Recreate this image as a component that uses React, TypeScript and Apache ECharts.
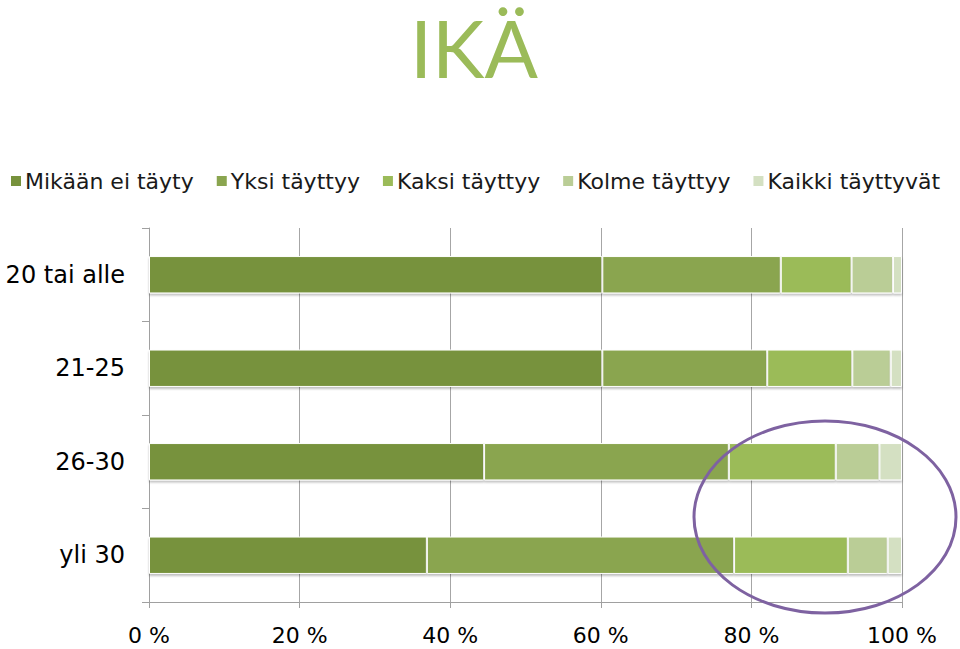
import React, { useEffect, useRef } from "react";
import * as echarts from "echarts";

const categories = ["20 tai alle", "21-25", "26-30", "yli 30"];
const seriesNames = ["Mikään ei täyty", "Yksi täyttyy", "Kaksi täyttyy", "Kolme täyttyy", "Kaikki täyttyvät"];
const mikaan = [60.2, 60.2, 44.5, 36.9];
const yksi = [23.7, 21.9, 32.5, 40.8];
const kaksi = [9.4, 11.3, 14.2, 15.1];
const kolme = [5.5, 5.1, 5.8, 5.3];
const kaikki = [1.2, 1.5, 3.0, 1.9];
const colors = ["#77923C", "#8AA54F", "#9BBB59", "#BACD96", "#D4E0C2"];
const xTicks = [0, 20, 40, 60, 80, 100];

export default function App() {
  const ref = useRef<HTMLDivElement>(null);
  useEffect(() => {
    if (!ref.current) return;
    const chart = echarts.init(ref.current, null, { renderer: "svg" });
    const values = [mikaan, yksi, kaksi, kolme, kaikki];
    chart.setOption({
      animation: false,
      backgroundColor: "#ffffff",
      title: {
        text: "IKÄ",
        left: 410,
        top: 2,
        padding: 0,
        textStyle: { fontFamily: "Lato", fontWeight: "normal", fontSize: 79, lineHeight: 90, color: "#9BBB59" },
      },
      legend: {
        left: 4,
        top: 165,
        icon: "rect",
        itemWidth: 12,
        itemHeight: 12,
        itemGap: 21,
        textStyle: { fontFamily: "DejaVu Sans", fontSize: 22, color: "#1a1a1a", padding: [0, 0, 0, -2] },
        data: seriesNames,
      },
      grid: { left: 149, right: 58, top: 228, bottom: 47 },
      xAxis: {
        type: "value",
        min: xTicks[0],
        max: xTicks[xTicks.length - 1],
        interval: 20,
        axisLabel: {
          formatter: "{value} %",
          fontFamily: "DejaVu Sans",
          fontSize: 22,
          color: "#000",
          margin: 22,
        },
        axisLine: { show: true, lineStyle: { color: "#A0A0A0", width: 1 } },
        axisTick: { show: true, length: 6, lineStyle: { color: "#A0A0A0" } },
        splitLine: { show: true, lineStyle: { color: "#A6A6A6", width: 1 } },
      },
      yAxis: {
        type: "category",
        inverse: true,
        data: categories,
        axisLabel: { fontFamily: "DejaVu Sans", fontSize: 24, color: "#000", margin: 24 },
        axisLine: { show: true, lineStyle: { color: "#A0A0A0", width: 1 } },
        axisTick: { show: true, length: 7, lineStyle: { color: "#A0A0A0" } },
      },
      series: seriesNames.map((name, i) => ({
        name,
        type: "bar",
        stack: "total",
        barWidth: "40%",
        data: values[i],
        itemStyle: {
          color: colors[i],
          borderColor: "#ffffff",
          borderWidth: 1,
          shadowColor: "rgba(0,0,0,0.25)",
          shadowBlur: 2,
          shadowOffsetY: 2,
        },
      })),
      graphic: [
        {
          type: "ellipse",
          shape: { cx: 825, cy: 517, rx: 131, ry: 96 },
          style: { fill: "none", stroke: "#7E62A1", lineWidth: 3 },
          z: 100,
        },
      ],
    });
    return () => chart.dispose();
  }, []);
  return <div ref={ref} style={{ width: 960, height: 649, position: "absolute", left: 0, top: 0 }} />;
}
